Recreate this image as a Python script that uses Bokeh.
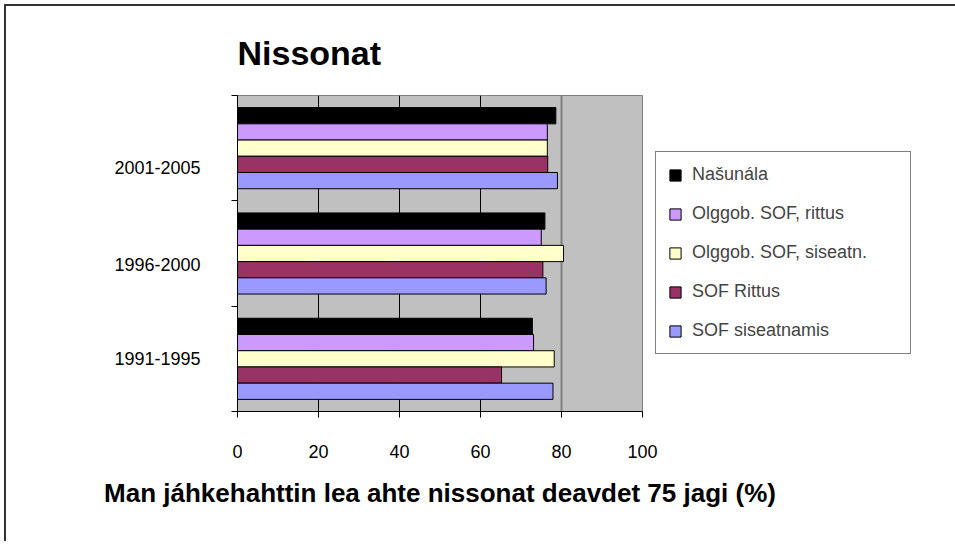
from bokeh.plotting import figure
from bokeh.models import (ColumnDataSource, FixedTicker, Grid, Legend, LegendItem, Range1d)
from bokeh.transform import dodge
from bokeh.embed import file_html
from bokeh.resources import INLINE

# ---- data ----
periods = ["1991-1995", "1996-2000", "2001-2005"]
nasunala = [72.8, 75.9, 78.6]
olggob_rittus = [73.1, 75.0, 76.5]
olggob_siseatn = [78.2, 80.5, 76.5]
sof_rittus = [65.2, 75.4, 76.6]
sof_siseatnamis = [77.9, 76.2, 79.0]
series_names = ["Našunála", "Olggob. SOF, rittus", "Olggob. SOF, siseatn.",
                "SOF Rittus", "SOF siseatnamis"]
x_ticks = [0, 20, 40, 60, 80, 100]
chart_title = "Nissonat"

FONT = "Liberation Sans"

source = ColumnDataSource(dict(
    y=[i + 0.5 for i in range(len(periods))],
    nasunala=nasunala, olggob_rittus=olggob_rittus, olggob_siseatn=olggob_siseatn,
    sof_rittus=sof_rittus, sof_siseatnamis=sof_siseatnamis,
))

p = figure(frame_width=405, frame_height=316,
           x_range=Range1d(0, 100), y_range=Range1d(0, len(periods)),
           output_backend="svg", toolbar_location=None,
           min_border_left=231, min_border_top=89, min_border_right=310, min_border_bottom=130,
           background_fill_color="#C0C0C0", border_fill_color="white")
p.styles = {"border-left": "2px solid #333333", "border-top": "2px solid #333333",
            "margin-left": "4px", "margin-top": "4px"}
p.outline_line_color = "#808080"
p.outline_line_width = 1

# title
p.title.text = chart_title
p.title.text_font = FONT
p.title.text_font_size = "34px"
p.title.text_font_style = "bold"
p.title.text_color = "black"
p.title.align = "left"
p.title.standoff = 47

# grids
p.ygrid.visible = False
p.xgrid.ticker = FixedTicker(ticks=[20, 40, 60])
p.xgrid.grid_line_color = "black"
p.xgrid.grid_line_width = 1
p.add_layout(Grid(dimension=0, ticker=FixedTicker(ticks=[80]),
                  grid_line_color="#808080", grid_line_width=2))

# x axis
xa = p.xaxis[0]
xa.ticker = FixedTicker(ticks=x_ticks)
xa.major_tick_out = 6
xa.major_tick_in = 0
xa.minor_tick_line_color = None
xa.axis_line_color = "black"
xa.major_label_text_font = FONT
xa.major_label_text_font_size = "18px"
xa.major_label_text_color = "black"
xa.major_label_standoff = 27
xa.axis_label = "Man jáhkehahttin lea ahte nissonat deavdet 75 jagi (%)"
xa.axis_label_text_font = FONT
xa.axis_label_text_font_size = "26px"
xa.axis_label_text_font_style = "bold"
xa.axis_label_text_color = "black"
xa.axis_label_standoff = 17

# y axis: tick marks at group boundaries, labels placed as in the original
ya = p.yaxis[0]
centers = [i + 0.5 for i in range(len(periods))]
bounds = list(range(len(periods) + 1))
label_shift = [0.0, -0.1, -0.18]   # the original's labels sit slightly low
label_pos = [c + s for c, s in zip(centers, label_shift)]
ya.ticker = FixedTicker(ticks=label_pos, minor_ticks=bounds)
ya.major_label_overrides = {c: lab for c, lab in zip(label_pos, periods)}
ya.major_tick_line_color = None
ya.major_tick_out = 0
ya.major_tick_in = 0
ya.minor_tick_out = 6
ya.minor_tick_in = 0
ya.minor_tick_line_color = "black"
ya.axis_line_color = "black"
ya.major_label_text_font = FONT
ya.major_label_text_font_size = "18px"
ya.major_label_text_color = "black"
ya.major_label_standoff = 31

# bars
keys = ["nasunala", "olggob_rittus", "olggob_siseatn", "sof_rittus", "sof_siseatnamis"]
colors = ["#000000", "#CC99FF", "#FFFFCC", "#993366", "#9999FF"]
bar_h = 0.154
offsets = [2 * bar_h, bar_h, 0.0, -bar_h, -2 * bar_h]
items = []
for key, name, col, off in zip(keys, series_names, colors, offsets):
    r = p.hbar(y=dodge("y", off, range=p.y_range), left=0, right=key, height=bar_h,
               fill_color=col, line_color="black", line_width=1, source=source)
    items.append(LegendItem(label=name, renderers=[r]))

legend = Legend(items=items, location=(13, 57),
                background_fill_color="white", background_fill_alpha=1,
                border_line_color="black", border_line_width=1,
                label_text_font=FONT, label_text_font_size="18px",
                glyph_width=14, glyph_height=14, label_height=21,
                spacing=18, padding=12, label_standoff=10, label_width=206, margin=0)
p.add_layout(legend, "right")

open("out.html", "w").write(file_html(p, INLINE))
